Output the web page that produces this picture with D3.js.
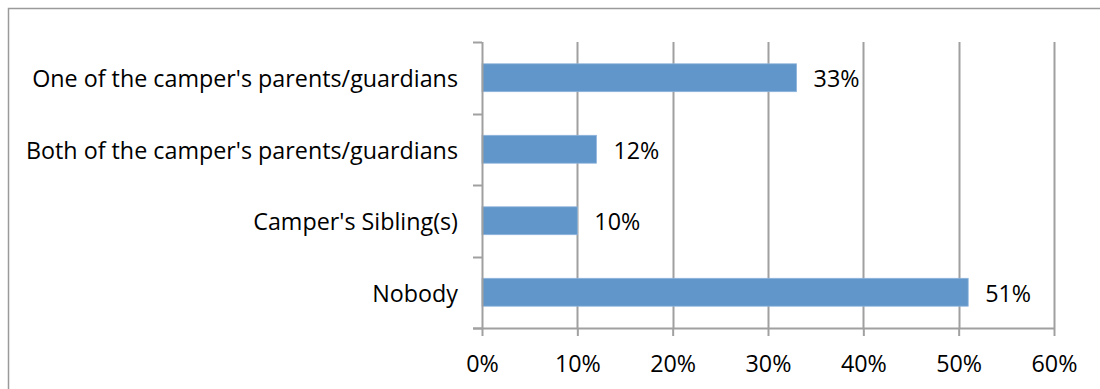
<!DOCTYPE html>
<html>
<head>
<meta charset="utf-8">
<script src="https://cdn.jsdelivr.net/npm/d3@7"></script>
<style>
  html, body { margin: 0; padding: 0; background: #fff; }
  svg { display: block; }
  text { font-family: "Open Sans", "Noto Sans", sans-serif; fill: #000; }
</style>
</head>
<body>
<svg id="chart" width="1100" height="389"></svg>
<script>
// Who accompanied the camper — share of responses
const categories = [
  "One of the camper's parents/guardians",
  "Both of the camper's parents/guardians",
  "Camper's Sibling(s)",
  "Nobody"
];
const values = [0.33, 0.12, 0.10, 0.51];
const tickValues = [0, 0.1, 0.2, 0.3, 0.4, 0.5, 0.6];

const svg = d3.select("#chart");
const W = 1100, H = 389;
const plot = { left: 482, right: 1054, top: 42, bottom: 328 };
const gridColor = "#a0a0a0";
const fontSize = 23.3;

// chart frame
svg.append("path")
  .attr("d", `M8.5,${H} V8.5 H${W}`)
  .attr("fill", "none")
  .attr("stroke", "#9a9a9a")
  .attr("stroke-width", 1.5);

const x = d3.scaleLinear().domain([0, 0.6]).range([plot.left, plot.right]);
const y = d3.scaleBand().domain(categories).range([plot.top, plot.bottom])
  .paddingInner(0.61).paddingOuter(0.305);
const yEdges = d3.scaleBand().domain(categories).range([plot.top, plot.bottom]);

// vertical gridlines
svg.append("g").selectAll("line").data(tickValues.slice(1)).join("line")
  .attr("x1", d => Math.round(x(d)) + 0.5).attr("x2", d => Math.round(x(d)) + 0.5)
  .attr("y1", plot.top).attr("y2", plot.bottom)
  .attr("stroke", gridColor).attr("stroke-width", 2);

// bars
svg.append("g").selectAll("rect").data(values).join("rect")
  .attr("x", x(0))
  .attr("y", (d, i) => y(categories[i]))
  .attr("width", d => x(d) - x(0))
  .attr("height", y.bandwidth())
  .attr("fill", "#6096c9")
  .attr("stroke", "#8fb4dc")
  .attr("stroke-width", 0.8);

// value labels
svg.append("g").selectAll("text").data(values).join("text")
  .attr("x", d => x(d) + 17)
  .attr("y", (d, i) => y(categories[i]) + y.bandwidth() / 2 + 1)
  .attr("dy", "0.36em")
  .attr("font-size", fontSize)
  .text(d => d3.format(".0%")(d));

// x axis
const xAxis = d3.axisBottom(x).tickValues(tickValues).tickFormat(d3.format(".0%"))
  .tickSize(8).tickSizeOuter(0);
const gx = svg.append("g").attr("transform", `translate(0,${plot.bottom})`).call(xAxis);
gx.select(".domain").attr("stroke", gridColor).attr("stroke-width", 2)
  .attr("d", `M${plot.left - 9},0.5H${plot.right}`);
gx.selectAll(".tick line").attr("stroke", gridColor).attr("stroke-width", 2);
gx.selectAll(".tick text").attr("font-size", fontSize).attr("y", 27).attr("dy", "0.71em")
  .attr("font-family", "'Open Sans', 'Noto Sans', sans-serif").attr("fill", "#000");

// y axis: category boundary ticks plus labels
const yLine = svg.append("g");
yLine.append("line")
  .attr("x1", plot.left + 0.5).attr("x2", plot.left + 0.5)
  .attr("y1", plot.top).attr("y2", plot.bottom)
  .attr("stroke", gridColor).attr("stroke-width", 2);
const bounds = categories.map(c => yEdges(c)).concat([plot.bottom]);
yLine.selectAll("line.tick").data(bounds).join("line").attr("class", "tick")
  .attr("x1", plot.left - 9).attr("x2", plot.left)
  .attr("y1", d => Math.round(d) + 0.5).attr("y2", d => Math.round(d) + 0.5)
  .attr("stroke", gridColor).attr("stroke-width", 2);

svg.append("g").selectAll("text").data(categories).join("text")
  .attr("x", plot.left - 24)
  .attr("y", c => y(c) + y.bandwidth() / 2 + 1)
  .attr("dy", "0.36em")
  .attr("text-anchor", "end")
  .attr("font-size", fontSize)
  .text(c => c);
</script>
</body>
</html>
